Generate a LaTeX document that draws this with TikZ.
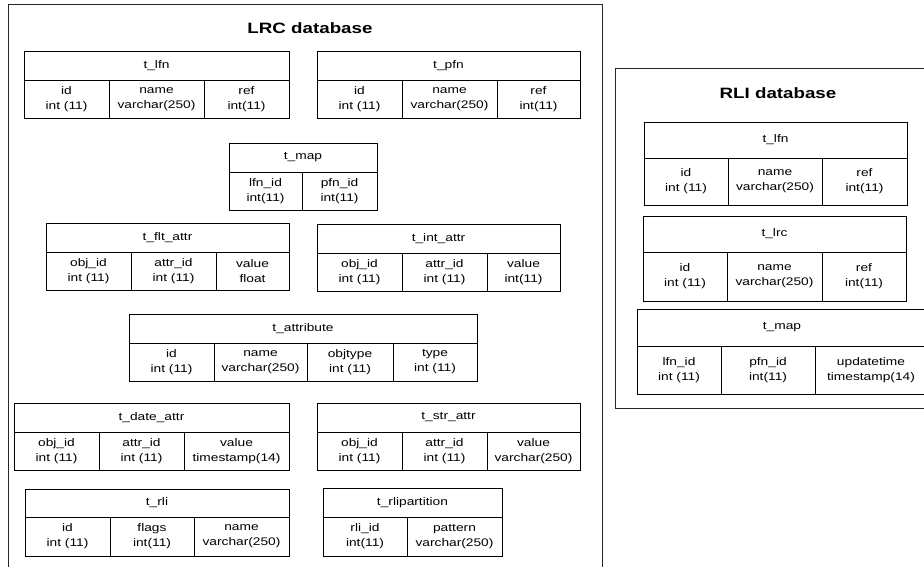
\documentclass[tikz,border=0pt]{standalone}
\usepackage{fontspec}
\setmainfont{Liberation Sans}[FakeStretch=1.25]
\tikzset{
  cellbox/.style={draw=black, line width=0.8pt, inner sep=0pt, outer sep=0pt,
    align=center, anchor=north west, font=\fontsize{11}{15}\selectfont},
  framebox/.style={draw=black!85, line width=0.9pt, inner sep=0pt, outer sep=0pt, anchor=north west},
  dbtitle/.style={font=\bfseries\fontsize{15}{18}\selectfont, inner sep=0pt}
}
\newcommand\tcell[6]{\node[cellbox, minimum width={(#4-#2)*1pt}, minimum height={(#5-#3)*1pt}] (#1) at (#2,#3) {#6};}
\begin{document}
\begin{tikzpicture}[x=1pt,y=-1pt]
\useasboundingbox (0,0) rectangle (924,566);
\clip (0,0) rectangle (924,566);
\fill[white] (0,0) rectangle (924,566);
% frames
\node[framebox, minimum width=594pt, minimum height=620pt] (lrc) at (8,4) {};
\node[framebox, minimum width=330pt, minimum height=340pt] (rli) at (615,68) {};
\node[dbtitle] (lrcT) at (310,28) {LRC database};
\node[dbtitle] (rliT) at (778,93) {RLI database};
% LRC t_lfn
\tcell{lfnH}{24}{51}{289}{80}{t\_lfn}
\tcell{lfnA}{24}{80}{109}{118}{id\\int (11)}
\tcell{lfnB}{109}{80}{204}{118}{name\\varchar(250)}
\tcell{lfnC}{204}{80}{289}{118}{ref\\int(11)}
% LRC t_pfn
\tcell{pfnH}{317}{51}{580}{80}{t\_pfn}
\tcell{pfnA}{317}{80}{402}{118}{id\\int (11)}
\tcell{pfnB}{402}{80}{497}{118}{name\\varchar(250)}
\tcell{pfnC}{497}{80}{580}{118}{ref\\int(11)}
% LRC t_map
\tcell{mapH}{229}{143}{377}{172}{t\_map}
\tcell{mapA}{229}{172}{302}{210}{lfn\_id\\int(11)}
\tcell{mapB}{302}{172}{377}{210}{pfn\_id\\int(11)}
% t_flt_attr
\tcell{fltH}{46}{223}{289}{252}{t\_flt\_attr}
\tcell{fltA}{46}{252}{131}{290}{obj\_id\\int (11)}
\tcell{fltB}{131}{252}{216}{290}{attr\_id\\int (11)}
\tcell{fltC}{216}{252}{289}{290}{value\\float}
% t_int_attr
\tcell{intH}{317}{224}{560}{253}{t\_int\_attr}
\tcell{intA}{317}{253}{402}{291}{obj\_id\\int (11)}
\tcell{intB}{402}{253}{487}{291}{attr\_id\\int (11)}
\tcell{intC}{487}{253}{560}{291}{value\\int(11)}
% t_attribute
\tcell{attH}{129}{314}{477}{343}{t\_attribute}
\tcell{attA}{129}{343}{214}{381}{id\\int (11)}
\tcell{attB}{214}{343}{307}{381}{name\\varchar(250)}
\tcell{attC}{307}{343}{393}{381}{objtype\\int (11)}
\tcell{attD}{393}{343}{477}{381}{type\\int (11)}
% t_date_attr
\tcell{dateH}{14}{403}{289}{432}{t\_date\_attr}
\tcell{dateA}{14}{432}{99}{470}{obj\_id\\int (11)}
\tcell{dateB}{99}{432}{184}{470}{attr\_id\\int (11)}
\tcell{dateC}{184}{432}{289}{470}{value\\timestamp(14)}
% t_str_attr
\tcell{strH}{317}{403}{580}{432}{t\_str\_attr}
\tcell{strA}{317}{432}{402}{470}{obj\_id\\int (11)}
\tcell{strB}{402}{432}{487}{470}{attr\_id\\int (11)}
\tcell{strC}{487}{432}{580}{470}{value\\varchar(250)}
% t_rli
\tcell{rliH}{25}{489}{289}{517}{t\_rli}
\tcell{rliA}{25}{517}{110}{556}{id\\int (11)}
\tcell{rliB}{110}{517}{194}{556}{flags\\int(11)}
\tcell{rliC}{194}{517}{289}{556}{name\\varchar(250)}
% t_rlipartition
\tcell{rpH}{323}{488}{502}{517}{t\_rlipartition}
\tcell{rpA}{323}{517}{407}{556}{rli\_id\\int(11)}
\tcell{rpB}{407}{517}{502}{556}{pattern\\varchar(250)}
% RLI t_lfn
\tcell{rlfnH}{644}{122}{907}{158}{t\_lfn}
\tcell{rlfnA}{644}{158}{728}{205}{id\\int (11)}
\tcell{rlfnB}{728}{158}{822}{205}{name\\varchar(250)}
\tcell{rlfnC}{822}{158}{907}{205}{ref\\int(11)}
% RLI t_lrc
\tcell{rlrcH}{643}{216}{906}{252}{t\_lrc}
\tcell{rlrcA}{643}{252}{727}{301}{id\\int (11)}
\tcell{rlrcB}{727}{252}{822}{301}{name\\varchar(250)}
\tcell{rlrcC}{822}{252}{906}{301}{ref\\int(11)}
% RLI t_map
\tcell{rmapH}{637}{309}{927}{346}{t\_map}
\tcell{rmapA}{637}{346}{721}{394}{lfn\_id\\int (11)}
\tcell{rmapB}{721}{346}{815}{394}{pfn\_id\\int(11)}
\tcell{rmapC}{815}{346}{927}{394}{updatetime\\timestamp(14)}
\end{tikzpicture}
\end{document}
